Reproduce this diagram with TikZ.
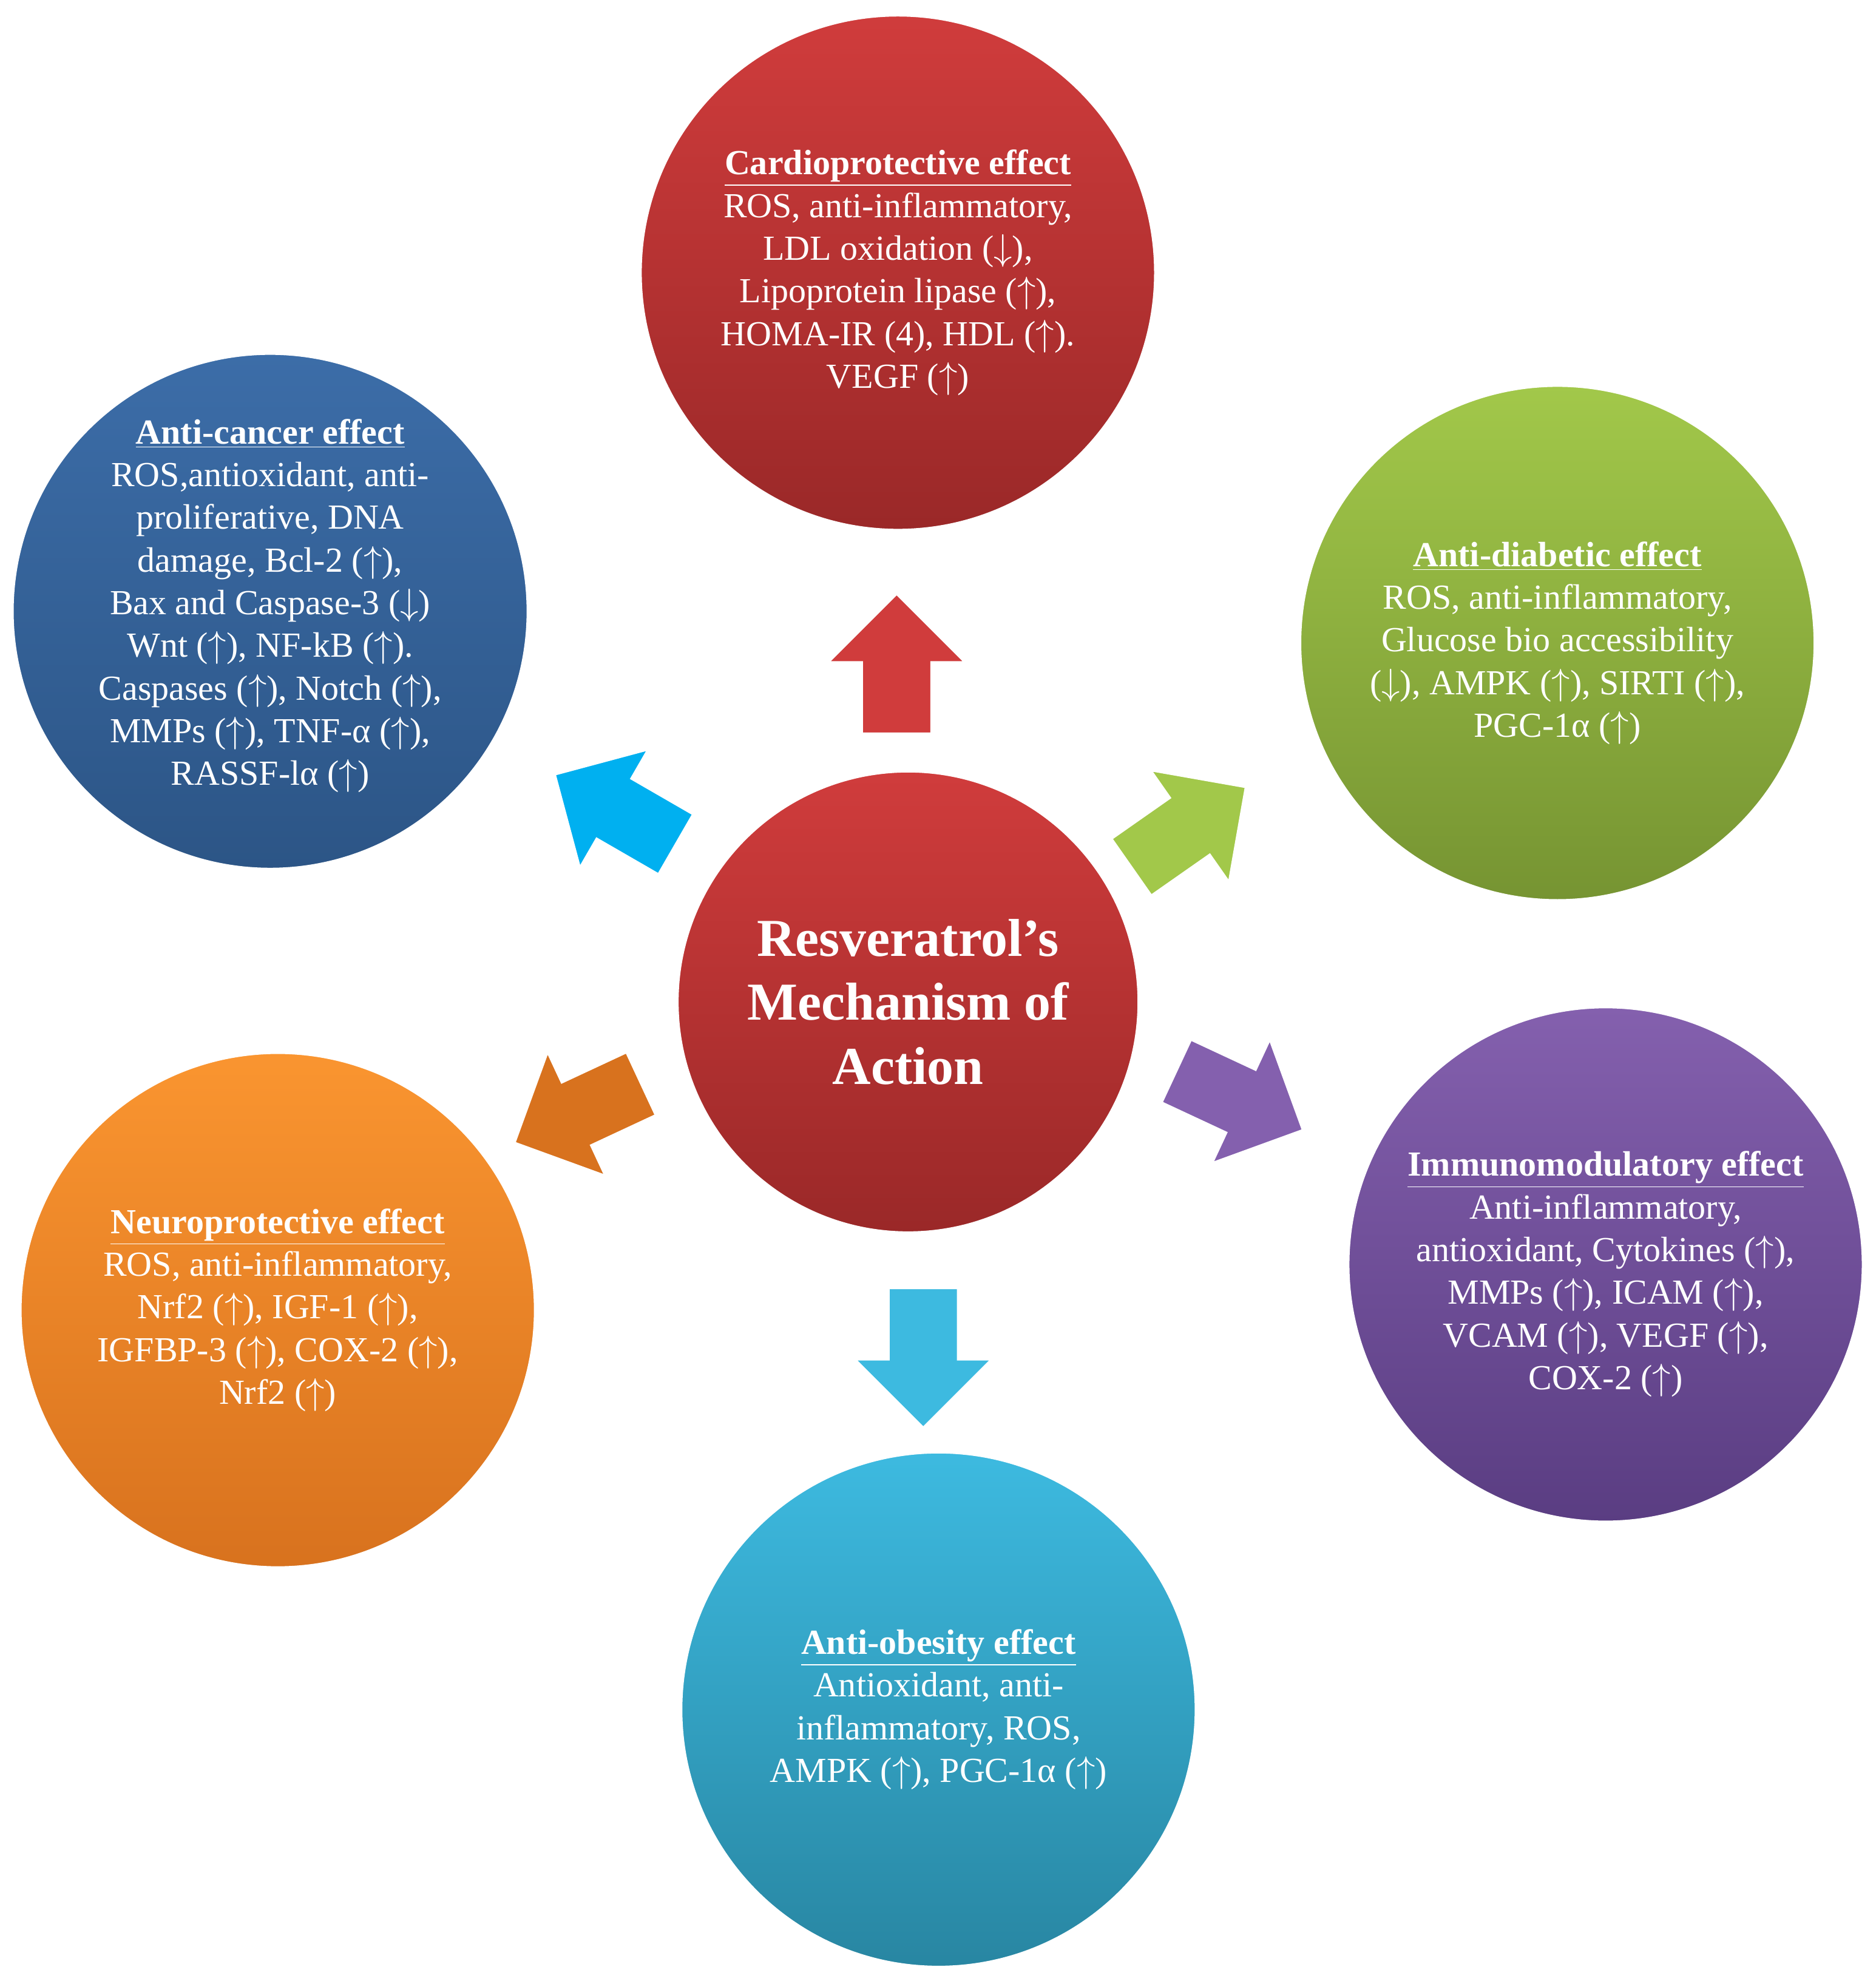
\documentclass[tikz,border=0pt]{standalone}
\usepackage{fontspec}
\setmainfont{Liberation Serif}
\usetikzlibrary{shapes.arrows}
\definecolor{cRedT}{HTML}{D03C3C}\definecolor{cRedB}{HTML}{9A2828}
\definecolor{cBluT}{HTML}{3C6DA8}\definecolor{cBluB}{HTML}{2C5586}
\definecolor{cGrnT}{HTML}{A2C84A}\definecolor{cGrnB}{HTML}{769432}
\definecolor{cPurT}{HTML}{8460AE}\definecolor{cPurB}{HTML}{5A3D82}
\definecolor{cOrgT}{HTML}{FA9530}\definecolor{cOrgB}{HTML}{D8721E}
\definecolor{cCyaT}{HTML}{3DBAE0}\definecolor{cCyaB}{HTML}{2886A2}
\definecolor{aCyan}{HTML}{00B0F0}
\tikzset{
 bub/.style 2 args={circle,minimum size=8.48cm,draw=white,line width=1.2pt,top color=#1,bottom color=#2,text=white,align=center,font=\fontsize{16.5}{20}\selectfont,inner sep=0pt},
 arr/.style 2 args={single arrow,draw=white,line width=1pt,fill=#1,minimum height=2.3cm,minimum width=2.25cm,single arrow head extend=0.55cm,inner xsep=0pt,inner ysep=0.55cm,rotate=#2}
}
\newcommand{\hdr}[1]{\underline{\textbf{#1}}}
\begin{document}
\begin{tikzpicture}[x=0.02089cm,y=-0.02089cm]
\useasboundingbox[fill=white] (0,0) rectangle (1479,1562);
\node[bub={cRedT}{cRedB}] (cardio) at (708,215) {\hdr{Cardioprotective effect}\\ROS, anti-inflammatory,\\LDL oxidation ($\downarrow$),\\Lipoprotein lipase ($\uparrow$),\\HOMA-IR (4), HDL ($\uparrow$).\\VEGF ($\uparrow$)};
\node[bub={cBluT}{cBluB}] (cancer) at (213,482) {\hdr{Anti-cancer effect}\\ROS,antioxidant, anti-\\proliferative, DNA\\damage, Bcl-2 ($\uparrow$),\\Bax and Caspase-3 ($\downarrow$)\\Wnt ($\uparrow$), NF-kB ($\uparrow$).\\Caspases ($\uparrow$), Notch ($\uparrow$),\\MMPs ($\uparrow$), TNF-α ($\uparrow$),\\RASSF-lα ($\uparrow$)\\[-0.4cm]};
\node[bub={cGrnT}{cGrnB}] (diab) at (1228,507) {\hdr{Anti-diabetic effect}\\ROS, anti-inflammatory,\\Glucose bio accessibility\\($\downarrow$), AMPK ($\uparrow$), SIRTI ($\uparrow$),\\PGC-1α ($\uparrow$)};
\node[bub={cPurT}{cPurB}] (immuno) at (1266,997) {\hdr{Immunomodulatory effect}\\Anti-inflammatory,\\antioxidant, Cytokines ($\uparrow$),\\MMPs ($\uparrow$), ICAM ($\uparrow$),\\VCAM ($\uparrow$), VEGF ($\uparrow$),\\COX-2 ($\uparrow$)\\[-0.9cm]};
\node[bub={cOrgT}{cOrgB}] (neuro) at (219,1033) {\hdr{Neuroprotective effect}\\ROS, anti-inflammatory,\\Nrf2 ($\uparrow$), IGF-1 ($\uparrow$),\\IGFBP-3 ($\uparrow$), COX-2 ($\uparrow$),\\Nrf2 ($\uparrow$)};
\node[bub={cCyaT}{cCyaB}] (obes) at (740,1348) {\hdr{Anti-obesity effect}\\Antioxidant, anti-\\inflammatory, ROS,\\AMPK ($\uparrow$), PGC-1α ($\uparrow$)};
\node[circle,minimum size=7.6cm,draw=white,line width=1.2pt,top color=cRedT,bottom color=cRedB,text=white,align=center,font=\fontsize{25}{30}\selectfont\bfseries,inner sep=0pt] (center) at (716,790) {Resveratrol's\\Mechanism of\\Action};
\node[arr={cRedT}{90}] (a1) at (707,537) {};
\node[arr={aCyan}{150}] (a2) at (497,645) {};
\node[arr={cGrnT}{35}] (a3) at (926,660) {};
\node[arr={cPurT}{-25}] (a4) at (965,862) {};
\node[arr={cOrgB}{205}] (a5) at (468,872) {};
\node[arr={cCyaT}{-90}] (a6) at (728,1057) {};
\end{tikzpicture}
\end{document}
